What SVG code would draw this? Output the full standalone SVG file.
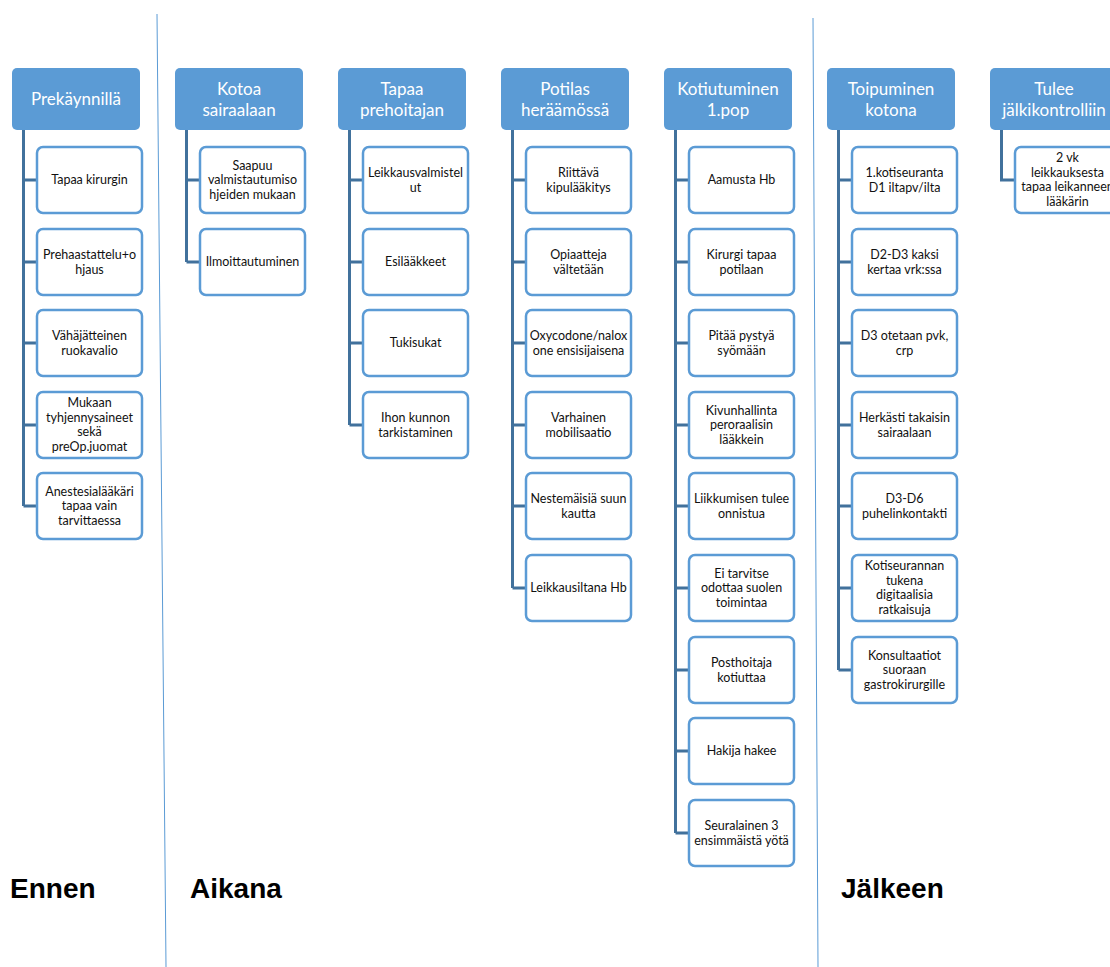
<svg xmlns="http://www.w3.org/2000/svg" width="1110" height="967" viewBox="0 0 1110 967">
<style>
.hdr{fill:#5B9BD5}
.ht{font-family:Lato,"Open Sans",sans-serif;font-size:17px;fill:#fff;text-anchor:middle}
.ch{fill:#fff;stroke:#5B9BD5;stroke-width:2.5}
.ct{font-family:Lato,"Open Sans",sans-serif;font-size:12.5px;fill:#111;text-anchor:middle}
.conn{fill:none;stroke:#41719C;stroke-width:3}
.div{stroke:#5B9BD5;stroke-width:1}
.lbl{font-family:"Liberation Sans",Arial,sans-serif;font-size:28px;font-weight:bold;fill:#000}
</style>
<rect width="1110" height="967" fill="#fff"/>
<g id="dividers">
<line class="div" x1="157" y1="14" x2="166" y2="967"/>
<line class="div" x1="813" y1="18" x2="818" y2="967"/>
</g>
<g id="connectors">
<path class="conn" d="M23.5 130V506M23.5 180H37M23.5 262H37M23.5 343H37M23.5 425H37M23.5 506H37"/>
<path class="conn" d="M186.5 130V262M186.5 180H200M186.5 262H200"/>
<path class="conn" d="M349.5 130V425M349.5 180H363M349.5 262H363M349.5 343H363M349.5 425H363"/>
<path class="conn" d="M512.5 130V588M512.5 180H526M512.5 262H526M512.5 343H526M512.5 425H526M512.5 506H526M512.5 588H526"/>
<path class="conn" d="M675.5 130V833M675.5 180H689M675.5 262H689M675.5 343H689M675.5 425H689M675.5 506H689M675.5 588H689M675.5 670H689M675.5 751H689M675.5 833H689"/>
<path class="conn" d="M838.5 130V670M838.5 180H852M838.5 262H852M838.5 343H852M838.5 425H852M838.5 506H852M838.5 588H852M838.5 670H852"/>
<path class="conn" d="M1001.5 130V180H1015"/>
</g>
<g id="h1"><rect class="hdr" x="12" y="68" width="128" height="62" rx="5"/><text class="ht" x="76" y="105">Prekäynnillä</text></g>
<g id="h2"><rect class="hdr" x="175" y="68" width="128" height="62" rx="5"/><text class="ht" x="239" y="94.5">Kotoa<tspan x="239" dy="21">sairaalaan</tspan></text></g>
<g id="h3"><rect class="hdr" x="338" y="68" width="128" height="62" rx="5"/><text class="ht" x="402" y="94.5">Tapaa<tspan x="402" dy="21">prehoitajan</tspan></text></g>
<g id="h4"><rect class="hdr" x="501" y="68" width="128" height="62" rx="5"/><text class="ht" x="565" y="94.5">Potilas<tspan x="565" dy="21">heräämössä</tspan></text></g>
<g id="h5"><rect class="hdr" x="664" y="68" width="128" height="62" rx="5"/><text class="ht" x="728" y="94.5">Kotiutuminen<tspan x="728" dy="21">1.pop</tspan></text></g>
<g id="h6"><rect class="hdr" x="827" y="68" width="128" height="62" rx="5"/><text class="ht" x="891" y="94.5">Toipuminen<tspan x="891" dy="21">kotona</tspan></text></g>
<g id="h7"><rect class="hdr" x="990" y="68" width="128" height="62" rx="5"/><text class="ht" x="1054" y="94.5">Tulee<tspan x="1054" dy="21">jälkikontrolliin</tspan></text></g>

<g id="c1-1"><rect class="ch" x="37" y="147" width="105" height="66" rx="6"/><text class="ct" x="89.5" y="184">Tapaa kirurgin</text></g>
<g id="c1-2"><rect class="ch" x="37" y="229" width="105" height="66" rx="6"/><text class="ct" x="89.5" y="259">Prehaastattelu+o<tspan x="89.5" dy="14.6">hjaus</tspan></text></g>
<g id="c1-3"><rect class="ch" x="37" y="310" width="105" height="66" rx="6"/><text class="ct" x="89.5" y="340">Vähäjätteinen<tspan x="89.5" dy="14.6">ruokavalio</tspan></text></g>
<g id="c1-4"><rect class="ch" x="37" y="392" width="105" height="66" rx="6"/><text class="ct" x="89.5" y="407">Mukaan<tspan x="89.5" dy="14.6">tyhjennysaineet</tspan><tspan x="89.5" dy="14.6">sekä</tspan><tspan x="89.5" dy="14.6">preOp.juomat</tspan></text></g>
<g id="c1-5"><rect class="ch" x="37" y="473" width="105" height="66" rx="6"/><text class="ct" x="89.5" y="495.5">Anestesialääkäri<tspan x="89.5" dy="14.6">tapaa vain</tspan><tspan x="89.5" dy="14.6">tarvittaessa</tspan></text></g>

<g id="c2-1"><rect class="ch" x="200" y="147" width="105" height="66" rx="6"/><text class="ct" x="252.5" y="169.5">Saapuu<tspan x="252.5" dy="14.6">valmistautumiso</tspan><tspan x="252.5" dy="14.6">hjeiden mukaan</tspan></text></g>
<g id="c2-2"><rect class="ch" x="200" y="229" width="105" height="66" rx="6"/><text class="ct" x="252.5" y="266">Ilmoittautuminen</text></g>

<g id="c3-1"><rect class="ch" x="363" y="147" width="105" height="66" rx="6"/><text class="ct" x="415.5" y="177">Leikkausvalmistel<tspan x="415.5" dy="14.6">ut</tspan></text></g>
<g id="c3-2"><rect class="ch" x="363" y="229" width="105" height="66" rx="6"/><text class="ct" x="415.5" y="266">Esilääkkeet</text></g>
<g id="c3-3"><rect class="ch" x="363" y="310" width="105" height="66" rx="6"/><text class="ct" x="415.5" y="347">Tukisukat</text></g>
<g id="c3-4"><rect class="ch" x="363" y="392" width="105" height="66" rx="6"/><text class="ct" x="415.5" y="422">Ihon kunnon<tspan x="415.5" dy="14.6">tarkistaminen</tspan></text></g>

<g id="c4-1"><rect class="ch" x="526" y="147" width="105" height="66" rx="6"/><text class="ct" x="578.5" y="177">Riittävä<tspan x="578.5" dy="14.6">kipulääkitys</tspan></text></g>
<g id="c4-2"><rect class="ch" x="526" y="229" width="105" height="66" rx="6"/><text class="ct" x="578.5" y="259">Opiaatteja<tspan x="578.5" dy="14.6">vältetään</tspan></text></g>
<g id="c4-3"><rect class="ch" x="526" y="310" width="105" height="66" rx="6"/><text class="ct" x="578.5" y="340">Oxycodone/nalox<tspan x="578.5" dy="14.6">one ensisijaisena</tspan></text></g>
<g id="c4-4"><rect class="ch" x="526" y="392" width="105" height="66" rx="6"/><text class="ct" x="578.5" y="422">Varhainen<tspan x="578.5" dy="14.6">mobilisaatio</tspan></text></g>
<g id="c4-5"><rect class="ch" x="526" y="473" width="105" height="66" rx="6"/><text class="ct" x="578.5" y="503">Nestemäisiä suun<tspan x="578.5" dy="14.6">kautta</tspan></text></g>
<g id="c4-6"><rect class="ch" x="526" y="555" width="105" height="66" rx="6"/><text class="ct" x="578.5" y="592">Leikkausiltana Hb</text></g>

<g id="c5-1"><rect class="ch" x="689" y="147" width="105" height="66" rx="6"/><text class="ct" x="741.5" y="184">Aamusta Hb</text></g>
<g id="c5-2"><rect class="ch" x="689" y="229" width="105" height="66" rx="6"/><text class="ct" x="741.5" y="259">Kirurgi tapaa<tspan x="741.5" dy="14.6">potilaan</tspan></text></g>
<g id="c5-3"><rect class="ch" x="689" y="310" width="105" height="66" rx="6"/><text class="ct" x="741.5" y="340">Pitää pystyä<tspan x="741.5" dy="14.6">syömään</tspan></text></g>
<g id="c5-4"><rect class="ch" x="689" y="392" width="105" height="66" rx="6"/><text class="ct" x="741.5" y="414.5">Kivunhallinta<tspan x="741.5" dy="14.6">peroraalisin</tspan><tspan x="741.5" dy="14.6">lääkkein</tspan></text></g>
<g id="c5-5"><rect class="ch" x="689" y="473" width="105" height="66" rx="6"/><text class="ct" x="741.5" y="503">Liikkumisen tulee<tspan x="741.5" dy="14.6">onnistua</tspan></text></g>
<g id="c5-6"><rect class="ch" x="689" y="555" width="105" height="66" rx="6"/><text class="ct" x="741.5" y="577.5">Ei tarvitse<tspan x="741.5" dy="14.6">odottaa suolen</tspan><tspan x="741.5" dy="14.6">toimintaa</tspan></text></g>
<g id="c5-7"><rect class="ch" x="689" y="637" width="105" height="66" rx="6"/><text class="ct" x="741.5" y="667">Posthoitaja<tspan x="741.5" dy="14.6">kotiuttaa</tspan></text></g>
<g id="c5-8"><rect class="ch" x="689" y="718" width="105" height="66" rx="6"/><text class="ct" x="741.5" y="755">Hakija hakee</text></g>
<g id="c5-9"><rect class="ch" x="689" y="800" width="105" height="66" rx="6"/><text class="ct" x="741.5" y="830">Seuralainen 3<tspan x="741.5" dy="14.6">ensimmäistä yötä</tspan></text></g>

<g id="c6-1"><rect class="ch" x="852" y="147" width="105" height="66" rx="6"/><text class="ct" x="904.5" y="177">1.kotiseuranta<tspan x="904.5" dy="14.6">D1 iltapv/ilta</tspan></text></g>
<g id="c6-2"><rect class="ch" x="852" y="229" width="105" height="66" rx="6"/><text class="ct" x="904.5" y="259">D2-D3 kaksi<tspan x="904.5" dy="14.6">kertaa vrk:ssa</tspan></text></g>
<g id="c6-3"><rect class="ch" x="852" y="310" width="105" height="66" rx="6"/><text class="ct" x="904.5" y="340">D3 otetaan pvk,<tspan x="904.5" dy="14.6">crp</tspan></text></g>
<g id="c6-4"><rect class="ch" x="852" y="392" width="105" height="66" rx="6"/><text class="ct" x="904.5" y="422">Herkästi takaisin<tspan x="904.5" dy="14.6">sairaalaan</tspan></text></g>
<g id="c6-5"><rect class="ch" x="852" y="473" width="105" height="66" rx="6"/><text class="ct" x="904.5" y="503">D3-D6<tspan x="904.5" dy="14.6">puhelinkontakti</tspan></text></g>
<g id="c6-6"><rect class="ch" x="852" y="555" width="105" height="66" rx="6"/><text class="ct" x="904.5" y="570">Kotiseurannan<tspan x="904.5" dy="14.6">tukena</tspan><tspan x="904.5" dy="14.6">digitaalisia</tspan><tspan x="904.5" dy="14.6">ratkaisuja</tspan></text></g>
<g id="c6-7"><rect class="ch" x="852" y="637" width="105" height="66" rx="6"/><text class="ct" x="904.5" y="659.5">Konsultaatiot<tspan x="904.5" dy="14.6">suoraan</tspan><tspan x="904.5" dy="14.6">gastrokirurgille</tspan></text></g>

<g id="c7-1"><rect class="ch" x="1015" y="147" width="105" height="66" rx="6"/><text class="ct" x="1067.5" y="162">2 vk<tspan x="1067.5" dy="14.6">leikkauksesta</tspan><tspan x="1067.5" dy="14.6">tapaa leikanneen</tspan><tspan x="1067.5" dy="14.6">lääkärin</tspan></text></g>

<g id="labels">
<text class="lbl" x="10" y="898">Ennen</text>
<text class="lbl" x="190" y="898">Aikana</text>
<text class="lbl" x="841" y="898">Jälkeen</text>
</g>
</svg>
